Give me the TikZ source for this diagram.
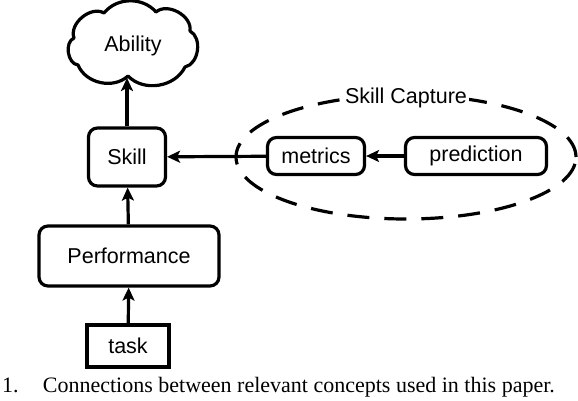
\documentclass[tikz,border=0pt]{standalone}
\usepackage{fontspec}
\setmainfont{Liberation Sans}
\newfontfamily\capfont{Liberation Serif}
\usetikzlibrary{shapes.geometric,arrows.meta}
\begin{document}
\begin{tikzpicture}[x=1pt,y=-1pt,
  lw/.style={line width=3.2pt},
  rbox/.style={draw,lw,rounded corners=9pt,inner sep=0pt,font=\fontsize{21.5}{25}\selectfont},
  sbox/.style={draw,lw,inner sep=0pt,font=\fontsize{21.5}{25}\selectfont},
  arr/.style={lw,-{Stealth[length=13pt,width=12pt,inset=3pt]}},
  lbl/.style={font=\fontsize{21.5}{25}\selectfont},
  puff/.style={bend left=#1,looseness=1}
]
\useasboundingbox (0,0) rectangle (578,400);
% cloud
\coordinate (cA) at (74,38);
\coordinate (cB) at (104,13);
\coordinate (cC) at (156,12);
\coordinate (cD) at (190,31);
\coordinate (cE) at (185,67);
\coordinate (cF) at (128,76);
\coordinate (cG) at (78,65);
\draw[lw,line join=round] (cA) to[puff=70] (cB) to[puff=50] (cC) to[puff=70] (cD) to[puff=70] (cE) to[puff=55] (cF) to[puff=55] (cG) to[puff=75] cycle;
\node[lbl] (abt) at (133,46) {Ability};
\node[rbox,minimum width=77pt,minimum height=58pt] (sk) at (127,157) {Skill};
\node[rbox,minimum width=180pt,minimum height=60pt] (pf) at (129,256) {Performance};
\node[sbox,minimum width=82pt,minimum height=42pt] (tk) at (128,346) {task};
\node[rbox,minimum width=97pt,minimum height=37pt] (mt) at (316,156) {metrics};
\node[rbox,minimum width=141pt,minimum height=37pt] (pr) at (476,156) {prediction};
\node[draw,lw,dashed,dash pattern=on 22pt off 15pt,ellipse,minimum width=340pt,minimum height=124pt] (el) at (406,157) {};
\node[lbl,fill=white,inner sep=2pt] (sc) at (406,98) {Skill Capture};
\coordinate (abin) at (127,78);
\draw[arr] (sk) -- (abin);
\draw[arr] (pf) -- (sk);
\draw[arr] (tk) -- (pf);
\draw[arr] (mt) -- (sk);
\draw[arr] (pr) -- (mt);
\node[anchor=west,inner sep=0pt,font=\capfont\fontsize{22}{26}\selectfont] (cap) at (2,387) {1.\hspace{1.1em}Connections between relevant concepts used in this paper.};
\end{tikzpicture}
\end{document}
